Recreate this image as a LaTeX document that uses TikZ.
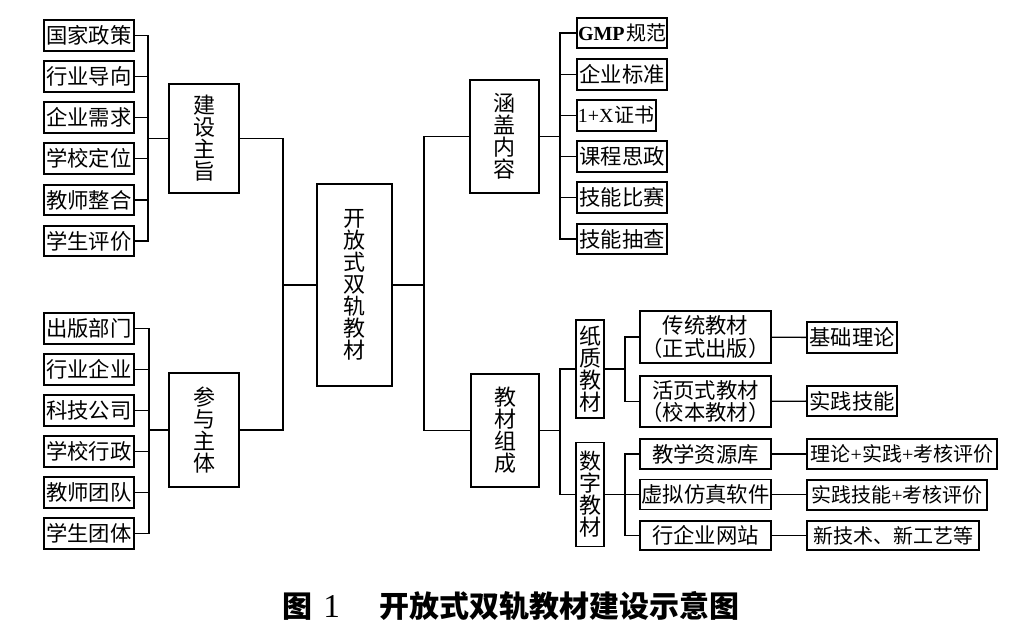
\documentclass[tikz,border=0pt]{standalone}
\usepackage{fontspec}
\setmainfont{Noto Sans CJK SC}
\newfontfamily\latin{Liberation Serif}
\tikzset{
  leaf/.style={draw, line width=1.5pt, inner sep=0pt, minimum height=23pt, text width=#1, align=center},
  leaf/.default=67.5pt,
  mid/.style={draw, line width=1.3pt, inner sep=0pt, align=center},
  vbox/.style={mid, text width=#1, font=\fontsize{16.5}{16.5}\selectfont},
  small/.style={font=\fontsize{15}{18}\selectfont},
}
\begin{document}
\begin{tikzpicture}[x=0.75pt, y=-0.75pt, line width=1pt, font=\fontsize{16}{19}\selectfont]
    \useasboundingbox (0,0) rectangle (1031,643);
    % left branches
    \foreach \t [count=\i from 0] in {国家政策,行业导向,企业需求,学校定位,教师整合,学生评价}
        \node[leaf] (zz\i) at (89,{35.5+41.1*\i}) {\t};
    \foreach \t [count=\i from 0] in {出版部门,行业企业,科技公司,学校行政,教师团队,学生团体}
        \node[leaf] (zt\i) at (89,{328.5+41*\i}) {\t};
    \node[vbox=52.5pt, minimum height=82pt] (jszz) at (204,138.5) {建\\设\\主\\旨};
    \node[vbox=52.5pt, minimum height=85.5pt] (cyzt) at (204,430) {参\\与\\主\\体};
    \node[vbox=56pt, minimum height=151.5pt] (core) at (354.5,285) {开\\放\\式\\双\\轨\\教\\材};
    % right branches
    \node[vbox=52pt, minimum height=85pt] (hgnr) at (504.5,136.5) {涵\\盖\\内\\容};
    \node[vbox=51pt, minimum height=85pt] (jczc) at (505,430.5) {教\\材\\组\\成};
    \node[leaf, anchor=west, small] (nr0) at (576,33) {{\latin\bfseries GMP}\kern1pt规范};
    \node[leaf, anchor=west] (nr1) at (576,74.2) {企业标准};
    \node[leaf=59pt, anchor=west, small] (nr2) at (576,115.4) {{\latin 1+X}\kern1pt 证书};
    \node[leaf, anchor=west] (nr3) at (576,156.6) {课程思政};
    \node[leaf, anchor=west] (nr4) at (576,197.8) {技能比赛};
    \node[leaf, anchor=west] (nr5) at (576,239) {技能抽查};
    \node[vbox=21pt, minimum height=73.5pt] (zhi) at (590,369) {纸\\质\\教\\材};
    \node[vbox=21pt, minimum height=78pt] (shu) at (590,494.5) {数\\字\\教\\材};
    \node[mid, text width=98pt, minimum height=39pt, font=\fontsize{16}{17}\selectfont] (ct) at (705.5,337) {传统教材\\（正式出版）};
    \node[mid, text width=98pt, minimum height=38pt, font=\fontsize{16}{17}\selectfont] (hy) at (705.5,401.5) {活页式教材\\（校本教材）};
    \node[mid, text width=98pt, minimum height=22.5pt] (zyk) at (705.5,454) {教学资源库};
    \node[mid, text width=98pt, minimum height=22.5pt] (fz) at (705.5,494.5) {虚拟仿真软件};
    \node[mid, text width=98pt, minimum height=22pt] (wz) at (705.5,535.5) {行企业网站};
    \node[leaf, anchor=west] (jc) at (806,337.5) {基础理论};
    \node[leaf, anchor=west] (sj) at (806,401) {实践技能};
    \node[leaf=142.5pt, anchor=west, minimum height=22.5pt, small] (llsj) at (806,454) {理论{\latin +}实践{\latin +}考核评价};
    \node[leaf=135pt, anchor=west, minimum height=22.5pt, small] (sjkh) at (806,494.5) {实践技能{\latin +}考核评价};
    \node[leaf=129pt, anchor=west, minimum height=22pt, small] (xjs) at (806,535.5) {新技术、新工艺等};
    % junctions
    \coordinate (b1) at (148,138.5);
    \coordinate (b2) at (149,430);
    \coordinate (jl) at (283,285);
    \coordinate (jr) at (424,285);
    \coordinate (b3) at (560,136.5);
    \coordinate (b4) at (560,430.5);
    \coordinate (b5) at (625,369);
    \coordinate (b6) at (625,494.5);
    \foreach \i in {0,...,5} {
        \draw (zz\i.east) -| (b1);
        \draw (zt\i.east) -| (b2);
        \draw (b3) |- (nr\i.west);
    }
    \draw (b1) -- (jszz.west);
    \draw (b2) -- (cyzt.west);
    \draw (jszz.east) -| (jl);
    \draw (cyzt.east) -| (jl);
    \draw (jl) -- (core.west);
    \draw (core.east) -- (jr);
    \draw (jr) |- (hgnr.west);
    \draw (jr) |- (jczc.west);
    \draw (hgnr.east) -- (b3);
    \draw (jczc.east) -- (b4);
    \draw (b4) |- (zhi.west);
    \draw (b4) |- (shu.west);
    \draw (zhi.east) -- (b5);
    \draw (b5) |- (ct.west);
    \draw (b5) |- (hy.west);
    \draw (shu.east) -- (b6);
    \draw (b6) |- (zyk.west);
    \draw (b6) -- (fz.west);
    \draw (b6) |- (wz.west);
    \draw (ct) -- (jc);
    \draw (hy) -- (sj);
    \draw (zyk) -- (llsj);
    \draw (fz) -- (sjkh);
    \draw (wz) -- (xjs);
    % caption
    \node[font=\fontsize{22.5}{24}\selectfont\bfseries] (cap) at (511,606) {图\hspace{0.35em}{\latin\mdseries\fontsize{25}{26}\selectfont 1}\hspace{1.3em}开放式双轨教材建设示意图};
\end{tikzpicture}
\end{document}
